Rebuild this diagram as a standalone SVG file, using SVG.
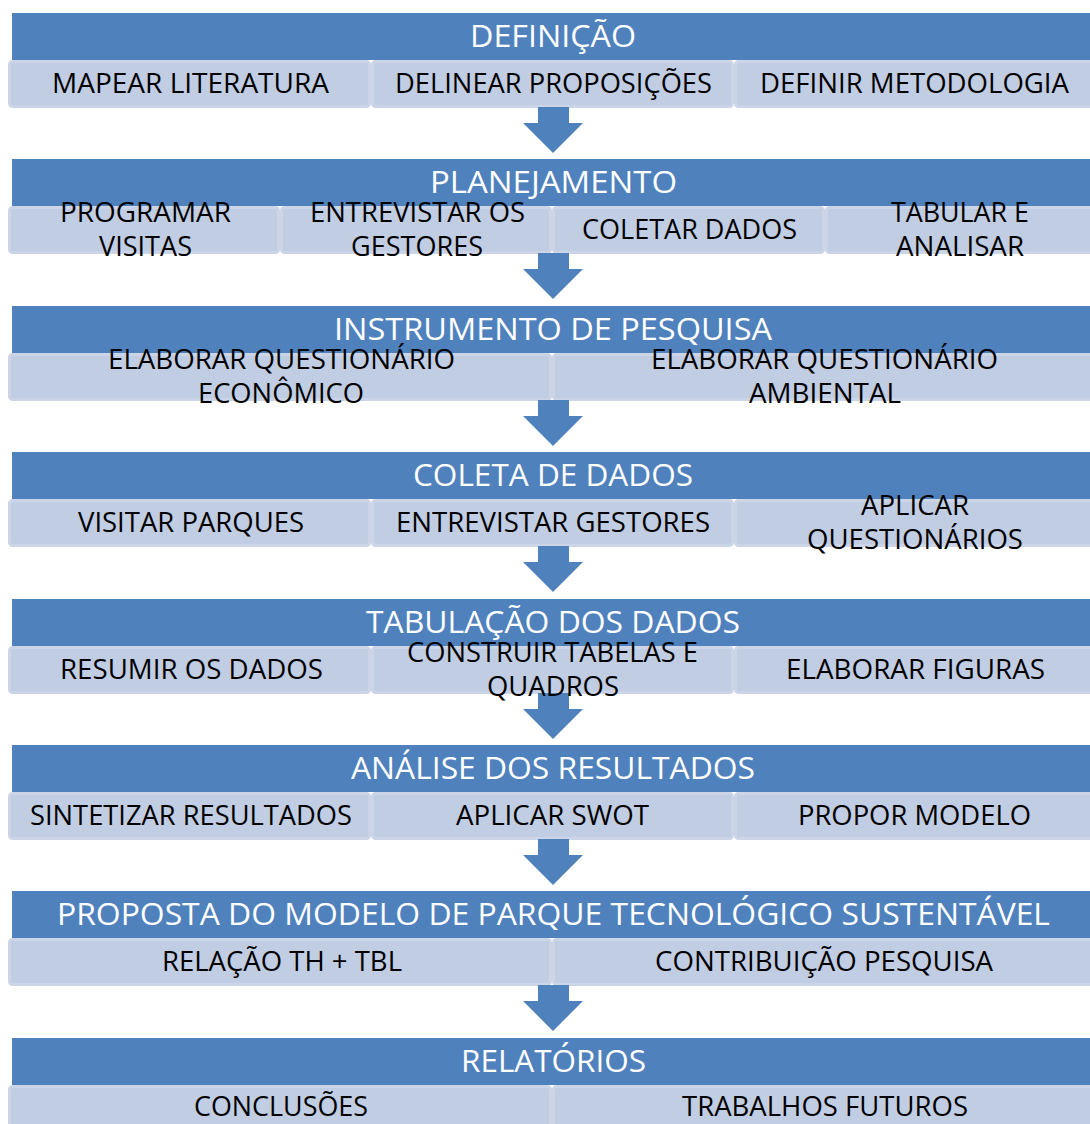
<svg xmlns="http://www.w3.org/2000/svg" xmlns:xlink="http://www.w3.org/1999/xlink" width="1090" height="1124" viewBox="0 0 1090 1124">
<style>
.hd{fill:#4F81BD}
.sb{fill:#C1CDE2;stroke:#CCD5E8;stroke-width:3}
.ar{fill:#4F81BD}
.ht{font-family:"Open Sans","Liberation Sans",sans-serif;font-size:31px;fill:#FFFFFF;text-anchor:middle}
.st{font-family:"Open Sans","Liberation Sans",sans-serif;font-size:28px;fill:#000000;text-anchor:middle}
</style>
<defs>
<polygon id="arrow" class="ar" points="538,0 569,0 569,16 583,16 553,46 523,16 538,16"/>
</defs>
<rect width="1090" height="1124" fill="#FFFFFF"/>

<g id="b1-header"><rect class="hd" x="12" y="13" width="1090" height="47"/></g>
<g id="b1-s1"><rect class="sb" x="9.5" y="61.5" width="360" height="45" rx="3"/></g>
<g id="b1-s2"><rect class="sb" x="372.5" y="61.5" width="360" height="45" rx="3"/></g>
<g id="b1-s3"><rect class="sb" x="735.5" y="61.5" width="360" height="45" rx="3"/></g>

<g id="b2-header"><rect class="hd" x="12" y="159" width="1090" height="47"/></g>
<g id="b2-s1"><rect class="sb" x="9.5" y="207.5" width="269" height="45" rx="3"/></g>
<g id="b2-s2"><rect class="sb" x="281.5" y="207.5" width="269" height="45" rx="3"/></g>
<g id="b2-s3"><rect class="sb" x="553.5" y="207.5" width="270" height="45" rx="3"/></g>
<g id="b2-s4"><rect class="sb" x="826.5" y="207.5" width="269" height="45" rx="3"/></g>

<g id="b3-header"><rect class="hd" x="12" y="306" width="1090" height="47"/></g>
<g id="b3-s1"><rect class="sb" x="9.5" y="354.5" width="541" height="45" rx="3"/></g>
<g id="b3-s2"><rect class="sb" x="553.5" y="354.5" width="542" height="45" rx="3"/></g>

<g id="b4-header"><rect class="hd" x="12" y="452" width="1090" height="47"/></g>
<g id="b4-s1"><rect class="sb" x="9.5" y="500.5" width="360" height="45" rx="3"/></g>
<g id="b4-s2"><rect class="sb" x="372.5" y="500.5" width="360" height="45" rx="3"/></g>
<g id="b4-s3"><rect class="sb" x="735.5" y="500.5" width="360" height="45" rx="3"/></g>

<g id="b5-header"><rect class="hd" x="12" y="599" width="1090" height="47"/></g>
<g id="b5-s1"><rect class="sb" x="9.5" y="647.5" width="360" height="45" rx="3"/></g>
<g id="b5-s2"><rect class="sb" x="372.5" y="647.5" width="360" height="45" rx="3"/></g>
<g id="b5-s3"><rect class="sb" x="735.5" y="647.5" width="360" height="45" rx="3"/></g>

<g id="b6-header"><rect class="hd" x="12" y="745" width="1090" height="47"/></g>
<g id="b6-s1"><rect class="sb" x="9.5" y="793.5" width="360" height="45" rx="3"/></g>
<g id="b6-s2"><rect class="sb" x="372.5" y="793.5" width="360" height="45" rx="3"/></g>
<g id="b6-s3"><rect class="sb" x="735.5" y="793.5" width="360" height="45" rx="3"/></g>

<g id="b7-header"><rect class="hd" x="12" y="891" width="1090" height="47"/></g>
<g id="b7-s1"><rect class="sb" x="9.5" y="939.5" width="541" height="45" rx="3"/></g>
<g id="b7-s2"><rect class="sb" x="553.5" y="939.5" width="542" height="45" rx="3"/></g>

<g id="b8-header"><rect class="hd" x="12" y="1038" width="1090" height="47"/></g>
<g id="b8-s1"><rect class="sb" x="9.5" y="1086.5" width="541" height="45" rx="3"/></g>
<g id="b8-s2"><rect class="sb" x="553.5" y="1086.5" width="542" height="45" rx="3"/></g>

<g id="connectors">
<use xlink:href="#arrow" href="#arrow" y="107"/>
<use xlink:href="#arrow" href="#arrow" y="253"/>
<use xlink:href="#arrow" href="#arrow" y="400"/>
<use xlink:href="#arrow" href="#arrow" y="546"/>
<use xlink:href="#arrow" href="#arrow" y="693"/>
<use xlink:href="#arrow" href="#arrow" y="839"/>
<use xlink:href="#arrow" href="#arrow" y="985"/>
</g>

<g id="labels">
<text class="ht" x="553" y="47" textLength="166" lengthAdjust="spacingAndGlyphs">DEFINIÇÃO</text>
<text class="st" x="190.5" y="93" textLength="277" lengthAdjust="spacingAndGlyphs">MAPEAR LITERATURA</text>
<text class="st" x="553.5" y="93" textLength="317" lengthAdjust="spacingAndGlyphs">DELINEAR PROPOSIÇÕES</text>
<text class="st" x="914.5" y="93" textLength="309" lengthAdjust="spacingAndGlyphs">DEFINIR METODOLOGIA</text>

<text class="ht" x="553.5" y="193" textLength="247" lengthAdjust="spacingAndGlyphs">PLANEJAMENTO</text>
<text class="st" x="145.5" y="222" textLength="171" lengthAdjust="spacingAndGlyphs">PROGRAMAR</text>
<text class="st" x="145.5" y="256" textLength="93" lengthAdjust="spacingAndGlyphs">VISITAS</text>
<text class="st" x="417.5" y="222" textLength="215" lengthAdjust="spacingAndGlyphs">ENTREVISTAR OS</text>
<text class="st" x="417" y="256" textLength="132" lengthAdjust="spacingAndGlyphs">GESTORES</text>
<text class="st" x="689.5" y="239" textLength="215" lengthAdjust="spacingAndGlyphs">COLETAR DADOS</text>
<text class="st" x="960" y="222" textLength="138" lengthAdjust="spacingAndGlyphs">TABULAR E</text>
<text class="st" x="960" y="256" textLength="128" lengthAdjust="spacingAndGlyphs">ANALISAR</text>

<text class="ht" x="553" y="340" textLength="438" lengthAdjust="spacingAndGlyphs">INSTRUMENTO DE PESQUISA</text>
<text class="st" x="281.5" y="369" textLength="347" lengthAdjust="spacingAndGlyphs">ELABORAR QUESTIONÁRIO</text>
<text class="st" x="281" y="403" textLength="166" lengthAdjust="spacingAndGlyphs">ECONÔMICO</text>
<text class="st" x="824.5" y="369" textLength="347" lengthAdjust="spacingAndGlyphs">ELABORAR QUESTIONÁRIO</text>
<text class="st" x="825" y="403" textLength="152" lengthAdjust="spacingAndGlyphs">AMBIENTAL</text>

<text class="ht" x="553" y="486" textLength="280" lengthAdjust="spacingAndGlyphs">COLETA DE DADOS</text>
<text class="st" x="191" y="532" textLength="226" lengthAdjust="spacingAndGlyphs">VISITAR PARQUES</text>
<text class="st" x="553" y="532" textLength="314" lengthAdjust="spacingAndGlyphs">ENTREVISTAR GESTORES</text>
<text class="st" x="915" y="515" textLength="108" lengthAdjust="spacingAndGlyphs">APLICAR</text>
<text class="st" x="915" y="549" textLength="216" lengthAdjust="spacingAndGlyphs">QUESTIONÁRIOS</text>

<text class="ht" x="553" y="633" textLength="374" lengthAdjust="spacingAndGlyphs">TABULAÇÃO DOS DADOS</text>
<text class="st" x="191.5" y="679" textLength="263" lengthAdjust="spacingAndGlyphs">RESUMIR OS DADOS</text>
<text class="st" x="552.5" y="662" textLength="291" lengthAdjust="spacingAndGlyphs">CONSTRUIR TABELAS E</text>
<text class="st" x="553" y="696" textLength="132" lengthAdjust="spacingAndGlyphs">QUADROS</text>
<text class="st" x="915.5" y="679" textLength="259" lengthAdjust="spacingAndGlyphs">ELABORAR FIGURAS</text>

<text class="ht" x="553" y="779" textLength="404" lengthAdjust="spacingAndGlyphs">ANÁLISE DOS RESULTADOS</text>
<text class="st" x="191" y="825" textLength="322" lengthAdjust="spacingAndGlyphs">SINTETIZAR RESULTADOS</text>
<text class="st" x="552.5" y="825" textLength="193" lengthAdjust="spacingAndGlyphs">APLICAR SWOT</text>
<text class="st" x="914.5" y="825" textLength="233" lengthAdjust="spacingAndGlyphs">PROPOR MODELO</text>

<text class="ht" x="553.5" y="925" textLength="993" lengthAdjust="spacingAndGlyphs">PROPOSTA DO MODELO DE PARQUE TECNOLÓGICO SUSTENTÁVEL</text>
<text class="st" x="282" y="971" textLength="240" lengthAdjust="spacingAndGlyphs">RELAÇÃO TH + TBL</text>
<text class="st" x="824" y="971" textLength="338" lengthAdjust="spacingAndGlyphs">CONTRIBUIÇÃO PESQUISA</text>

<text class="ht" x="553.5" y="1072" textLength="185" lengthAdjust="spacingAndGlyphs">RELATÓRIOS</text>
<text class="st" x="281" y="1116" textLength="174" lengthAdjust="spacingAndGlyphs">CONCLUSÕES</text>
<text class="st" x="825" y="1116" textLength="286" lengthAdjust="spacingAndGlyphs">TRABALHOS FUTUROS</text>
</g>
</svg>
